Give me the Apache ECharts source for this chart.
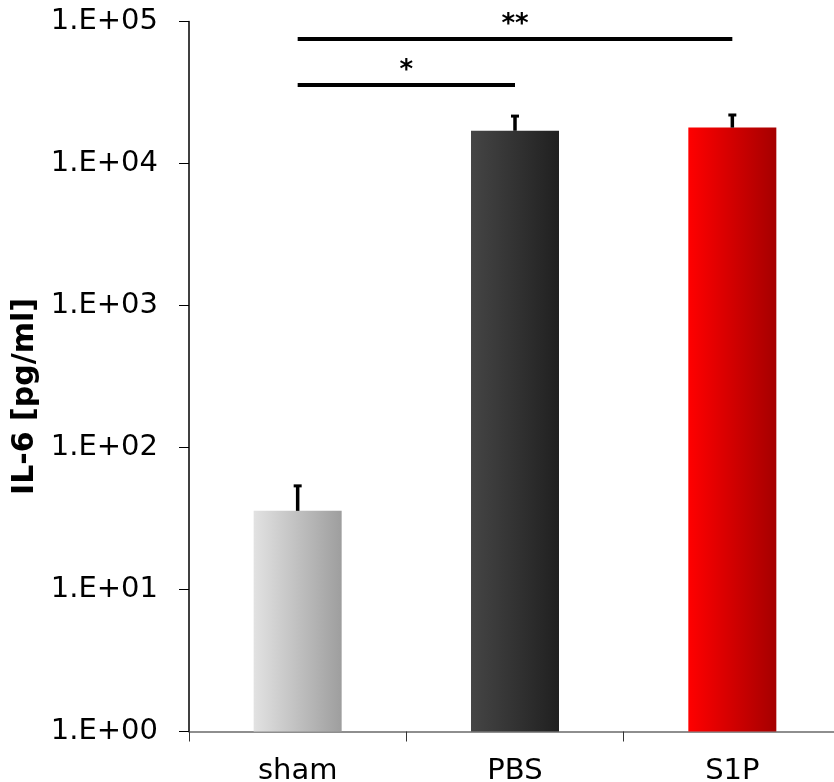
<!DOCTYPE html>
<html>
<head>
<meta charset="utf-8">
<script src="https://cdn.jsdelivr.net/npm/echarts@6/dist/echarts.min.js"></script>
<style>
html, body { margin: 0; padding: 0; background: #fff; }
#chart { width: 834px; height: 782px; }
</style>
</head>
<body>
<div id="chart"></div>
<script>
var groups = ['sham', 'PBS', 'S1P'];
var means = [35.8, 17000, 17900];   // IL-6 mean
var upper = [55, 22100, 22500];     // mean + SD
var barColors = [['#e2e2e2', '#9e9e9e'], ['#454545', '#202020'], ['#ff0000', '#a50000']];
var yTicks = ['1.E+00', '1.E+01', '1.E+02', '1.E+03', '1.E+04', '1.E+05'];
var sigPairs = [['sham', 'PBS', 36000, '*'], ['sham', 'S1P', 75900, '**']];

var chart = echarts.init(document.getElementById('chart'));

var barData = [];
for (var i = 0; i < groups.length; i++) {
    barData.push({
        value: means[i],
        itemStyle: {
            color: new echarts.graphic.LinearGradient(0, 0, 1, 0, [
                {offset: 0, color: barColors[i][0]},
                {offset: 1, color: barColors[i][1]}
            ])
        }
    });
}
var errData = [];
for (var i = 0; i < groups.length; i++) {
    errData.push([i, means[i], upper[i]]);
}
var sigLines = [];
for (var i = 0; i < sigPairs.length; i++) {
    sigLines.push([
        {coord: [sigPairs[i][0], sigPairs[i][2]], label: {formatter: sigPairs[i][3]}},
        {coord: [sigPairs[i][1], sigPairs[i][2]]}
    ]);
}

var option = {
    animation: false,
    grid: {left: 189, top: 21.5, width: 652, bottom: 50.5, containLabel: false, outerBoundsMode: 'none'},
    xAxis: {
        type: 'category',
        data: groups,
        axisLine: {lineStyle: {color: '#6a6a6a', width: 1.5}},
        axisTick: {show: true, length: 10, lineStyle: {color: '#333'}},
        axisLabel: {
            fontFamily: 'DejaVu Sans', fontSize: 29, color: '#000', margin: 25
        }
    },
    yAxis: {
        type: 'log',
        logBase: 10,
        min: 1,
        max: 100000,
        name: 'IL-6 [pg/ml]',
        nameLocation: 'middle',
        nameGap: 148,
        nameTextStyle: {
            fontFamily: 'DejaVu Sans', fontSize: 30, fontWeight: 'bold', color: '#000',
            padding: [0, 40, 0, 0]
        },
        axisLine: {show: true, lineStyle: {color: '#000', width: 1.5}},
        axisTick: {show: true, length: 10, lineStyle: {color: '#000'}},
        splitLine: {show: false},
        axisLabel: {
            fontFamily: 'DejaVu Sans', fontSize: 29, color: '#000', margin: 31,
            formatter: function (v) {
                var k = Math.round(Math.log10(v));
                return yTicks[k];
            }
        }
    },
    series: [
        {
            type: 'bar',
            barWidth: 88,
            data: barData,
            markLine: {
                silent: true,
                symbol: 'none',
                lineStyle: {color: '#000', width: 4, type: 'solid'},
                label: {
                    position: 'middle', color: '#000', fontSize: 26, fontWeight: 'bold',
                    fontFamily: 'DejaVu Sans', distance: 0
                },
                data: sigLines
            }
        },
        {
            type: 'custom',
            data: errData,
            z: 5,
            renderItem: function (params, api) {
                var p0 = api.coord([api.value(0), api.value(1)]);
                var p1 = api.coord([api.value(0), api.value(2)]);
                return {
                    type: 'group',
                    children: [
                        {type: 'line', shape: {x1: p0[0], y1: p0[1], x2: p1[0], y2: p1[1] + 1},
                            style: {stroke: '#000', lineWidth: 3.5}},
                        {type: 'line', shape: {x1: p1[0] - 4, y1: p1[1] + 1.5, x2: p1[0] + 4, y2: p1[1] + 1.5},
                            style: {stroke: '#000', lineWidth: 3}}
                    ]
                };
            }
        }
    ]
};
chart.setOption(option);
</script>
</body>
</html>
